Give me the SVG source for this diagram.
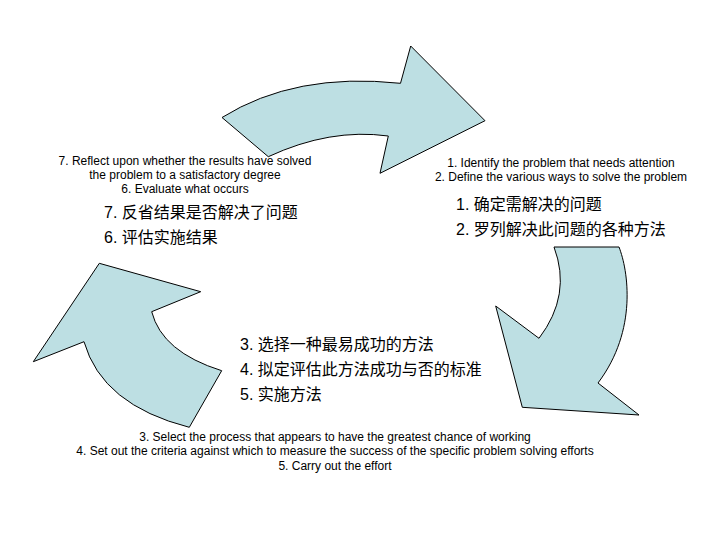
<svg xmlns="http://www.w3.org/2000/svg" width="720" height="540" viewBox="0 0 720 540">
<style>
.arrow{fill:#BDDFE3;stroke:#000;stroke-width:1;stroke-linejoin:miter}
.en{font-family:"Liberation Sans",Arial,sans-serif;font-size:12px;fill:#000}
.zh{font-family:"Liberation Sans","Noto Sans CJK SC",sans-serif;font-size:16px;fill:#000}
</style>
<rect width="720" height="540" fill="#fff"/>
<g id="connectors">
<path id="arrow-top" class="arrow" d="M222,117.5 Q295,72 400.5,83.3 L410.7,46 L485,120.7 L380,173.3 L388.3,136 Q330,128 268.3,156.7 Z"/>
<path id="arrow-right" class="arrow" d="M554,247 L619,247 C628,270 638,330 598,383 L639,415 L522.3,407.3 L495.7,306 L539,338.3 Q572,295 554,247 Z"/>
<path id="arrow-left" class="arrow" d="M99.3,263.3 L200.7,291.7 L151.7,311.7 Q162,352 221.7,370.7 L189.3,427.3 Q102,405 84,341.7 L33.3,361.7 Z"/>
</g>
<g id="node-7-6">
<text class="en" text-anchor="middle" x="185" y="165">7. Reflect upon whether the results have solved</text>
<text class="en" text-anchor="middle" x="185" y="179">the problem to a satisfactory degree</text>
<text class="en" text-anchor="middle" x="185" y="193">6. Evaluate what occurs</text>
<text class="zh" x="104" y="218">7. 反省结果是否解决了问题</text>
<text class="zh" x="104" y="243">6. 评估实施结果</text>
</g>
<g id="node-1-2">
<text class="en" text-anchor="middle" x="561" y="167">1. Identify the problem that needs attention</text>
<text class="en" text-anchor="middle" x="561" y="181">2. Define the various ways to solve the problem</text>
<text class="zh" x="456" y="210">1. 确定需解决的问题</text>
<text class="zh" x="456" y="235">2. 罗列解决此问题的各种方法</text>
</g>
<g id="node-3-5">
<text class="zh" x="240" y="350">3. 选择一种最易成功的方法</text>
<text class="zh" x="240" y="375">4. 拟定评估此方法成功与否的标准</text>
<text class="zh" x="240" y="400">5. 实施方法</text>
<text class="en" text-anchor="middle" x="335" y="441">3. Select the process that appears to have the greatest chance of working</text>
<text class="en" text-anchor="middle" x="335" y="455">4. Set out the criteria against which to measure the success of the specific problem solving efforts</text>
<text class="en" text-anchor="middle" x="335" y="470">5. Carry out the effort</text>
</g>
</svg>
